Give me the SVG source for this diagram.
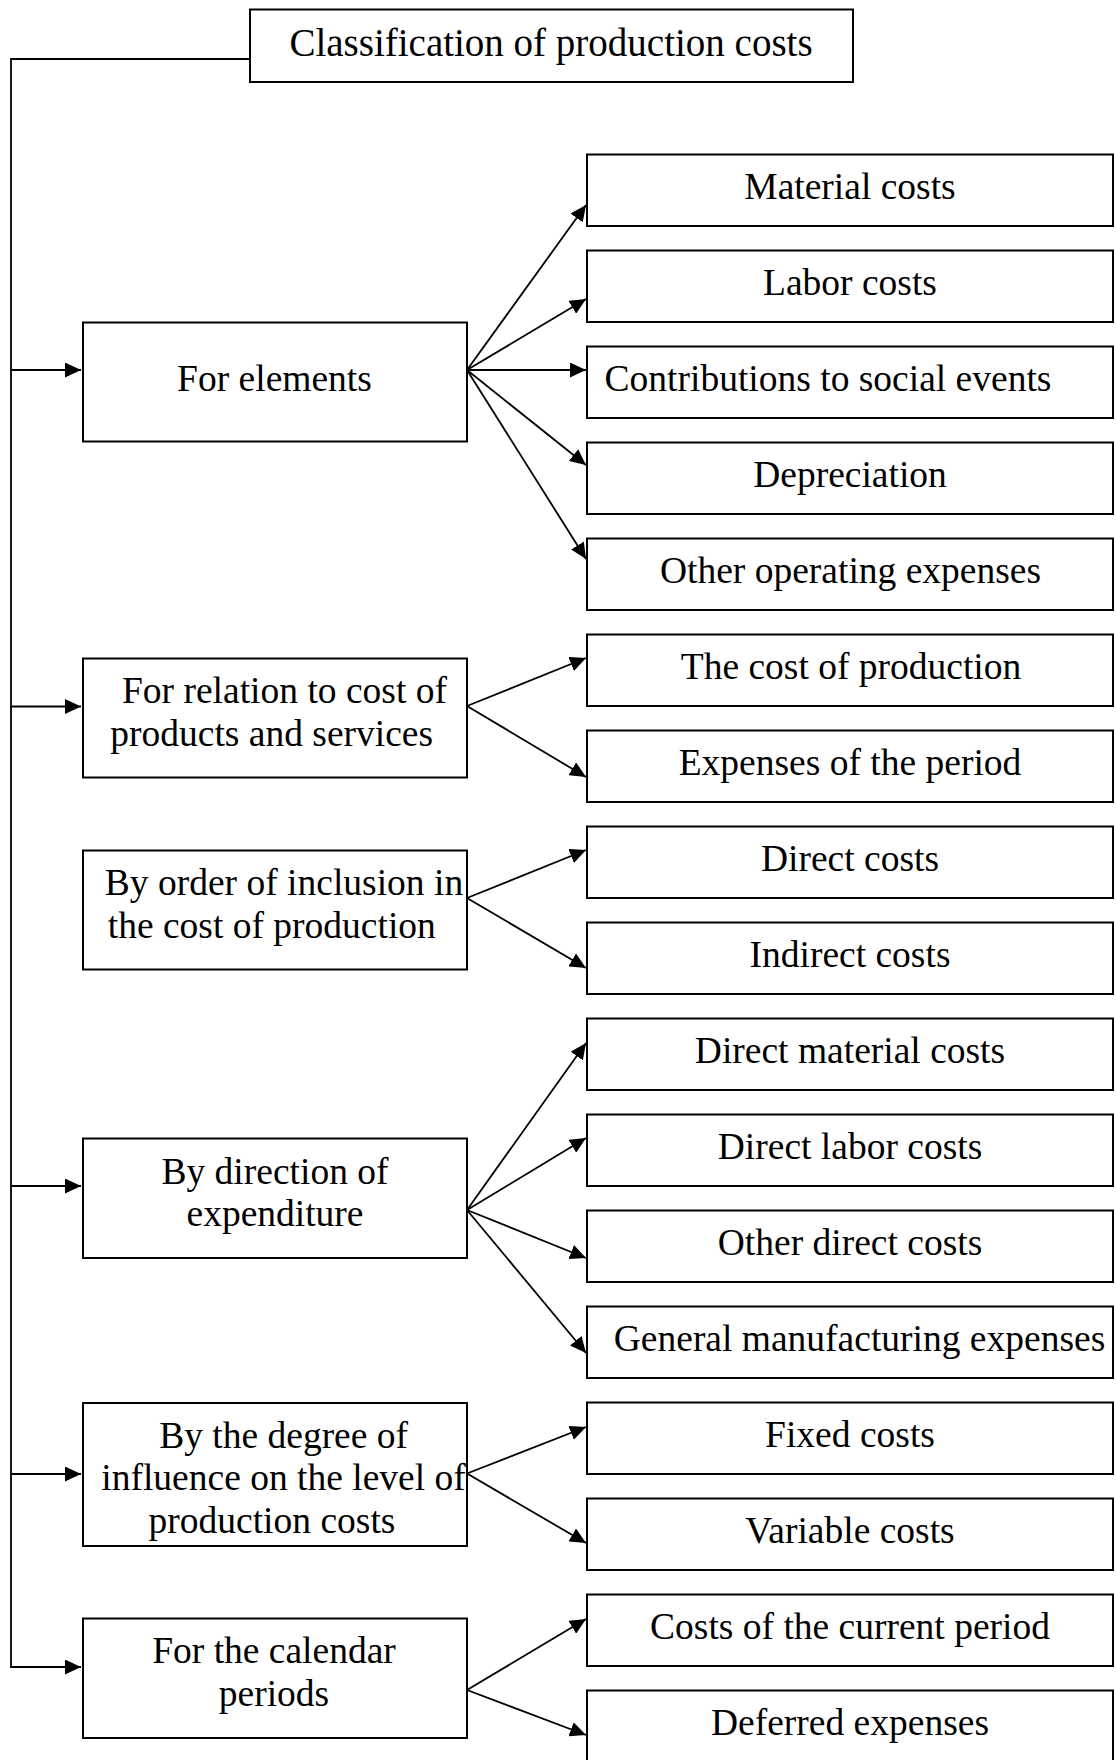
<svg xmlns="http://www.w3.org/2000/svg" width="1115" height="1760" viewBox="0 0 1115 1760">
  <style>
    .box { fill: #ffffff; stroke: #000000; stroke-width: 2; }
    .lbl { font-family: "Liberation Serif", "Times New Roman", serif; font-size: 37.5px; fill: #000000; text-anchor: middle; }
    .ttl { font-size: 39px; }
    .wire { fill: none; stroke: #000000; stroke-width: 1.8; }
  </style>
  <defs>
    <marker id="arrow" markerUnits="userSpaceOnUse" markerWidth="17" markerHeight="15" refX="16" refY="7.5" orient="auto">
      <path d="M0,0 L16,7.5 L0,15 Z" fill="#000000"/>
    </marker>
  </defs>
  <rect width="1115" height="1760" fill="#ffffff"/>

  <!-- connectors -->
  <g id="connectors" class="wire">
    <!-- trunk from the root box down the left margin -->
    <polyline points="250,59 11,59 11,1667 81,1667" marker-end="url(#arrow)"/>
    <line x1="11" y1="370" x2="81" y2="370" marker-end="url(#arrow)"/>
    <line x1="11" y1="706.5" x2="81" y2="706.5" marker-end="url(#arrow)"/>
    <line x1="11" y1="1186" x2="81" y2="1186" marker-end="url(#arrow)"/>
    <line x1="11" y1="1474" x2="81" y2="1474" marker-end="url(#arrow)"/>

    <!-- For elements -->
    <line x1="467" y1="370" x2="586" y2="205" marker-end="url(#arrow)"/>
    <line x1="467" y1="370" x2="586" y2="299" marker-end="url(#arrow)"/>
    <line x1="467" y1="370" x2="586" y2="370" marker-end="url(#arrow)"/>
    <line x1="467" y1="370" x2="586" y2="465" marker-end="url(#arrow)"/>
    <line x1="467" y1="370" x2="586" y2="559" marker-end="url(#arrow)"/>

    <!-- For relation to cost -->
    <line x1="467" y1="706" x2="586" y2="658" marker-end="url(#arrow)"/>
    <line x1="467" y1="706" x2="586" y2="777" marker-end="url(#arrow)"/>

    <!-- By order of inclusion -->
    <line x1="467" y1="898" x2="586" y2="850" marker-end="url(#arrow)"/>
    <line x1="467" y1="898" x2="586" y2="968" marker-end="url(#arrow)"/>

    <!-- By direction of expenditure -->
    <line x1="467" y1="1210" x2="586" y2="1043" marker-end="url(#arrow)"/>
    <line x1="467" y1="1210" x2="586" y2="1138" marker-end="url(#arrow)"/>
    <line x1="467" y1="1210" x2="586" y2="1258" marker-end="url(#arrow)"/>
    <line x1="467" y1="1210" x2="586" y2="1353" marker-end="url(#arrow)"/>

    <!-- By the degree of influence -->
    <line x1="467" y1="1473.5" x2="586" y2="1427" marker-end="url(#arrow)"/>
    <line x1="467" y1="1473.5" x2="586" y2="1543" marker-end="url(#arrow)"/>

    <!-- For the calendar periods -->
    <line x1="467" y1="1690" x2="586" y2="1619" marker-end="url(#arrow)"/>
    <line x1="467" y1="1690" x2="586" y2="1735" marker-end="url(#arrow)"/>
  </g>

  <!-- root -->
  <g id="root">
    <rect class="box" x="250" y="9.5" width="603" height="72.5"/>
    <text class="lbl ttl" x="551" y="56">Classification of production costs</text>
  </g>

  <!-- classification criteria -->
  <g id="for-elements">
    <rect class="box" x="83" y="322.5" width="384" height="119"/>
    <text class="lbl" x="274.5" y="391">For elements</text>
  </g>
  <g id="for-relation">
    <rect class="box" x="83" y="658.5" width="384" height="119"/>
    <text class="lbl" x="284.5" y="703">For relation to cost of</text>
    <text class="lbl" x="271.7" y="745.5">products and services</text>
  </g>
  <g id="by-order">
    <rect class="box" x="83" y="850.5" width="384" height="119"/>
    <text class="lbl" x="284" y="895">By order of inclusion in</text>
    <text class="lbl" x="271.8" y="937.5">the cost of production</text>
  </g>
  <g id="by-direction">
    <rect class="box" x="83" y="1138.5" width="384" height="119.5"/>
    <text class="lbl" x="275" y="1183.5">By direction of</text>
    <text class="lbl" x="275" y="1226">expenditure</text>
  </g>
  <g id="by-degree">
    <rect class="box" x="83" y="1403" width="384" height="143"/>
    <text class="lbl" x="283.6" y="1447.5">By the degree of</text>
    <text class="lbl" x="283.5" y="1490">influence on the level of</text>
    <text class="lbl" x="272" y="1532.5">production costs</text>
  </g>
  <g id="for-calendar">
    <rect class="box" x="83" y="1618.5" width="384" height="119.5"/>
    <text class="lbl" x="274" y="1663">For the calendar</text>
    <text class="lbl" x="274" y="1705.5">periods</text>
  </g>

  <!-- cost categories -->
  <g id="material-costs">
    <rect class="box" x="587" y="154.5" width="526" height="71.5"/>
    <text class="lbl" x="850" y="199">Material costs</text>
  </g>
  <g id="labor-costs">
    <rect class="box" x="587" y="250.5" width="526" height="71.5"/>
    <text class="lbl" x="850" y="295">Labor costs</text>
  </g>
  <g id="social-contributions">
    <rect class="box" x="587" y="346.5" width="526" height="71.5"/>
    <text class="lbl" x="828" y="391">Contributions to social events</text>
  </g>
  <g id="depreciation">
    <rect class="box" x="587" y="442.5" width="526" height="71.5"/>
    <text class="lbl" x="850" y="487">Depreciation</text>
  </g>
  <g id="other-operating">
    <rect class="box" x="587" y="538.5" width="526" height="71.5"/>
    <text class="lbl" x="850.5" y="583">Other operating expenses</text>
  </g>
  <g id="cost-of-production">
    <rect class="box" x="587" y="634.5" width="526" height="71.5"/>
    <text class="lbl" x="851" y="679">The cost of production</text>
  </g>
  <g id="period-expenses">
    <rect class="box" x="587" y="730.5" width="526" height="71.5"/>
    <text class="lbl" x="850" y="775">Expenses of the period</text>
  </g>
  <g id="direct-costs">
    <rect class="box" x="587" y="826.5" width="526" height="71.5"/>
    <text class="lbl" x="850" y="871">Direct costs</text>
  </g>
  <g id="indirect-costs">
    <rect class="box" x="587" y="922.5" width="526" height="71.5"/>
    <text class="lbl" x="850" y="967">Indirect costs</text>
  </g>
  <g id="direct-material">
    <rect class="box" x="587" y="1018.5" width="526" height="71.5"/>
    <text class="lbl" x="850" y="1063">Direct material costs</text>
  </g>
  <g id="direct-labor">
    <rect class="box" x="587" y="1114.5" width="526" height="71.5"/>
    <text class="lbl" x="850" y="1159">Direct labor costs</text>
  </g>
  <g id="other-direct">
    <rect class="box" x="587" y="1210.5" width="526" height="71.5"/>
    <text class="lbl" x="850" y="1255">Other direct costs</text>
  </g>
  <g id="general-manufacturing">
    <rect class="box" x="587" y="1306.5" width="526" height="71.5"/>
    <text class="lbl" x="859.5" y="1351">General manufacturing expenses</text>
  </g>
  <g id="fixed-costs">
    <rect class="box" x="587" y="1402.5" width="526" height="71.5"/>
    <text class="lbl" x="850" y="1447">Fixed costs</text>
  </g>
  <g id="variable-costs">
    <rect class="box" x="587" y="1498.5" width="526" height="71.5"/>
    <text class="lbl" x="850" y="1543">Variable costs</text>
  </g>
  <g id="current-period">
    <rect class="box" x="587" y="1594.5" width="526" height="71.5"/>
    <text class="lbl" x="850" y="1639">Costs of the current period</text>
  </g>
  <g id="deferred-expenses">
    <rect class="box" x="587" y="1690.5" width="526" height="71.5"/>
    <text class="lbl" x="850" y="1735">Deferred expenses</text>
  </g>
</svg>
